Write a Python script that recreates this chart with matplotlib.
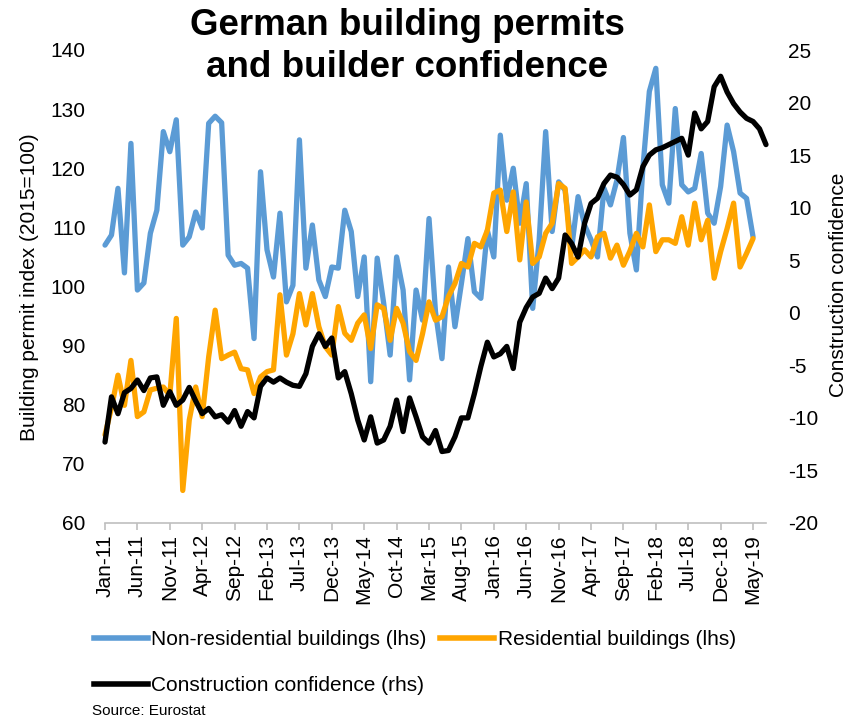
import numpy as np
import pandas as pd
import matplotlib
matplotlib.use("Agg")
import matplotlib.pyplot as plt
from matplotlib.lines import Line2D

plt.rcParams['font.family'] = ['Liberation Sans', 'DejaVu Sans']
plt.rcParams['axes.unicode_minus'] = False

# monthly data, Jan-11 onwards
months = pd.date_range('2011-01-01', periods=103, freq='MS').strftime('%b-%y').tolist()

non_residential = [
    107, 108.7, 116.6, 102.3, 124.2, 99.4, 100.6, 109, 112.9, 126.2,
    122.8, 128.2, 107, 108.4, 112.6, 109.9, 127.6, 128.8, 127.7, 105.3,
    103.6, 103.9, 103.1, 91.2, 119.4, 106.2, 101.6, 112.4, 97.4, 100.2,
    124.8, 103.1, 110.4, 101.1, 98.3, 103.3, 103.1, 112.9, 109.3, 98.3,
    105, 83.9, 104.8, 97.2, 88.4, 105, 99.4, 84.2, 99.4, 94.3,
    111.5, 95.7, 87.8, 103.3, 93.2, 100.5, 108.1, 99.1, 98, 109.5,
    105, 125.6, 114.6, 120, 110.7, 117.4, 96.3, 107.9, 126.2, 109.3,
    117.7, 116.3, 106.4, 115.2, 110.4, 107.9, 105, 116.6, 113.8, 118,
    125.2, 109, 102.8, 120, 133, 136.9, 117.2, 114.1, 130.1, 117.2,
    116, 116.6, 122.5, 112.4, 110.7, 116.9, 127.3, 122.8, 115.8, 114.9,
    108.4,
]

residential = [
    74.9, 79.5, 85, 79.9, 87.5, 78, 78.8, 82.5, 82.8, 83,
    81.6, 94.6, 65.5, 77.4, 83, 78, 88.1, 96, 87.8, 88.4,
    88.9, 86.1, 85.9, 81.9, 84.7, 85.6, 85.9, 98.6, 88.4, 92,
    98.8, 93.5, 98.8, 93.2, 89.8, 88.4, 96.6, 92.1, 90.9, 93.8,
    95.2, 89.5, 96.9, 96.3, 90.9, 96.3, 93.8, 89, 87.5, 92,
    97.4, 94.3, 94.9, 98.3, 100.5, 103.9, 103.3, 107.3, 106.7, 109.5,
    115.8, 116.3, 109.3, 116, 104.5, 114.3, 103.9, 105, 109, 110.7,
    117.4, 116.6, 103.9, 105, 106.2, 105, 108.4, 109, 104.8, 107,
    103.6, 106, 109, 106.7, 113.8, 105.9, 107.9, 107.9, 107.3, 111.8,
    107, 114.1, 107.9, 111.2, 101.4, 105.9, 109.8, 114.1, 103.3, 105.6,
    108.1,
]

confidence = [
    -12.3, -8.0, -9.6, -7.6, -7.2, -6.4, -7.4, -6.2, -6.1, -8.8,
    -7.5, -8.8, -8.3, -7.1, -8.4, -9.6, -9.1, -9.9, -9.7, -10.4,
    -9.3, -10.8, -9.4, -10.0, -7.0, -6.2, -6.6, -6.2, -6.6, -6.9,
    -7.0, -5.8, -3.2, -2.0, -3.2, -2.4, -6.2, -5.6, -7.7, -10.2,
    -12.1, -9.9, -12.4, -12.1, -10.8, -8.3, -11.3, -8.1, -9.9, -11.8,
    -12.4, -11.2, -13.2, -13.1, -11.8, -10.0, -10.0, -7.7, -5.1, -2.8,
    -4.2, -3.9, -3.2, -5.3, -0.9, 0.5, 1.5, 1.85, 3.3, 2.3,
    3.3, 7.4, 6.6, 5.3, 8.5, 10.4, 10.9, 12.3, 13.1, 12.9,
    12.2, 11.2, 11.7, 13.9, 15.0, 15.5, 15.7, 16.0, 16.3, 16.6,
    15.0, 19.0, 17.5, 18.2, 21.5, 22.5, 21.0, 19.9, 19.1, 18.5,
    18.2, 17.5, 16.0,
]

blue = '#5B9BD5'
orange = '#FFA500'
lw = 3.8

fig = plt.figure(figsize=(8.59, 7.17), dpi=100)
ax = fig.add_axes([105 / 859, 1 - 523 / 717, 661 / 859, 473 / 717])
ax2 = ax.twinx()

ax.plot(range(len(non_residential)), non_residential, color=blue, lw=lw,
        solid_joinstyle='round', solid_capstyle='round', clip_on=False)
ax.plot(range(len(residential)), residential, color=orange, lw=lw,
        solid_joinstyle='round', solid_capstyle='round', clip_on=False)
ax2.plot(range(len(confidence)), confidence, color='black', lw=lw,
         solid_joinstyle='round', solid_capstyle='round', clip_on=False)

ax.set_xlim(0, 102)
ax.set_ylim(60, 140)
ax.set_yticks(range(60, 141, 10))
ax2.set_ylim(-20, 25)
ax2.set_yticks(range(-20, 26, 5))

ticks = list(range(0, 101, 5))
ax.set_xticks(ticks)
ax.set_xticklabels([months[i] for i in ticks], rotation=90, fontsize=15)

for a in (ax, ax2):
    for s in a.spines.values():
        s.set_visible(False)
ax.spines['bottom'].set_visible(True)
ax.spines['bottom'].set_color('#BFBFBF')
ax.spines['bottom'].set_linewidth(1.2)
ax.tick_params(axis='x', length=5, width=1.2, color='#BFBFBF', pad=3)
ax.tick_params(axis='y', length=0, pad=14, labelsize=15)
ax2.tick_params(axis='y', length=0, pad=16, labelsize=15)

fig.text(30 / 859, 1 - 287 / 717, 'Building permit index (2015=100)',
         rotation=90, ha='center', va='center', fontsize=15)
fig.text(838 / 859, 1 - 285 / 717, 'Construction confidence',
         rotation=90, ha='center', va='center', fontsize=15)

fig.text(407 / 859, 1 - 35 / 717, 'German building permits', ha='center',
         va='baseline', fontsize=26.5, fontweight='bold')
fig.text(407 / 859, 1 - 77 / 717, 'and builder confidence', ha='center',
         va='baseline', fontsize=26.5, fontweight='bold')

handles = [Line2D([], [], color=blue, lw=4),
           Line2D([], [], color='black', lw=4),
           Line2D([], [], color=orange, lw=4)]
labels = ['Non-residential buildings (lhs)', 'Construction confidence (rhs)',
          'Residential buildings (lhs)']
fig.legend(handles, labels, loc='upper left', bbox_to_anchor=(94 / 859, 1 - 630 / 717),
           ncol=2, frameon=False, fontsize=15, handlelength=2.6, handletextpad=0.15,
           columnspacing=0.65, labelspacing=1.3, borderpad=0, borderaxespad=0)

fig.text(92 / 859, 1 - 711 / 717, 'Source: Eurostat', ha='left', va='center', fontsize=11)

fig.savefig('out.png', dpi=100)
